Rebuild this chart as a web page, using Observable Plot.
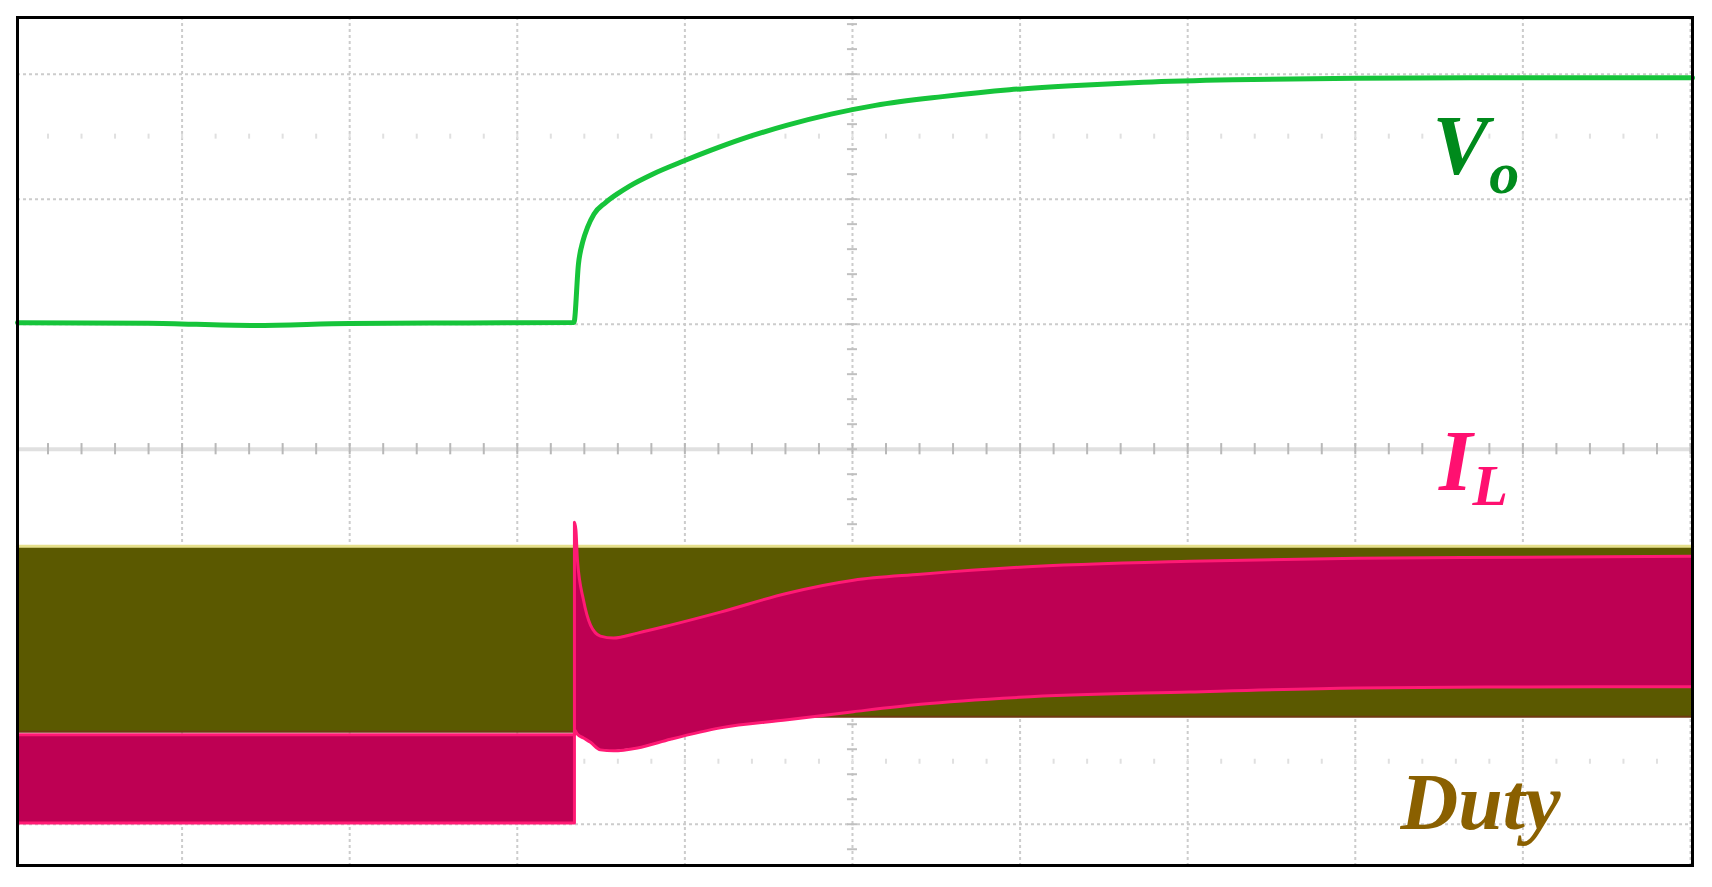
<!DOCTYPE html>
<html><head><meta charset="utf-8">
<script src="https://cdn.jsdelivr.net/npm/d3@7"></script>
<script src="https://cdn.jsdelivr.net/npm/@observablehq/plot@0.6"></script>
<style>html,body{margin:0;padding:0;background:#fff;overflow:hidden}#chart svg{display:block}</style>
</head><body><div id="chart"></div>
<script>
// Oscilloscope screen units: divisions (x: time/div, y: volts-or-amps/div)
const gridX = [-4, -3, -2, -1, 0, 1, 2, 3, 4, 5];
const gridY = [-3, -2, -1, 1, 2, 3];
const minorX = d3.range(-4.8, 5.01, 0.2);
const minorY = d3.range(-3.2, 3.41, 0.2);
const dotRowsY = [-2.5, 2.5];

// Vo trace
const voT = [-4.982, -4.2, -3.59, -3.0, -2.3, -1.662, -1.635, -1.608, -1.581, -1.542, -1.475, -1.408, -1.33, -1.193, -1.008, -0.847, -0.662, -0.394, -0.128, 0.137, 0.537, 0.937, 1.337, 1.736, 2.27, 3.0, 4.0, 5.012];
const voV = [1.012, 1.008, 0.99, 1.005, 1.01, 1.014, 1.482, 1.666, 1.774, 1.881, 1.971, 2.038, 2.105, 2.20, 2.305, 2.39, 2.48, 2.59, 2.68, 2.75, 2.82, 2.875, 2.91, 2.935, 2.955, 2.968, 2.972, 2.972];

// Duty (PWM) envelope
const dutyT = [-4.982, -1.659, -1.659, 5.012];
const dutyTop = [-0.777, -0.777, -0.777, -0.777];
const dutyBottom = [-2.261, -2.261, -2.14, -2.14];

// Inductor current IL envelope
const ilT = [-4.982, -1.659, -1.659, -1.650, -1.641, -1.605, -1.563, -1.504, -1.426, -1.283, -1.086, -0.788, -0.388, 0.006, 0.406, 0.996, 2.011, 3.013, 4.016, 5.012];
const ilTop = [-2.285, -2.285, -0.585, -0.648, -0.888, -1.207, -1.407, -1.495, -1.511, -1.471, -1.407, -1.303, -1.152, -1.048, -1.000, -0.944, -0.896, -0.872, -0.864, -0.856];
const ilBottom = [-2.99, -2.99, -2.245, -2.26, -2.28, -2.31, -2.345, -2.405, -2.413, -2.39, -2.32, -2.229, -2.165, -2.10, -2.04, -1.985, -1.942, -1.91, -1.902, -1.90];

const vo = voT.map((t, i) => ({t, v: voV[i]}));
const duty = dutyT.map((t, i) => ({t, top: dutyTop[i], bottom: dutyBottom[i]}));
const il = ilT.map((t, i) => ({t, top: ilTop[i], bottom: ilBottom[i]}));

const serif = "'Liberation Serif', 'Times New Roman', serif";

const chart = Plot.plot({
  width: 1712,
  height: 887,
  marginTop: 17,
  marginLeft: 17,
  marginRight: 20,
  marginBottom: 22,
  x: {domain: [-4.982, 5.012], axis: null},
  y: {domain: [-3.33, 3.453], axis: null},
  style: {background: "#ffffff", overflow: "visible"},
  marks: [
    // grid
    Plot.ruleX(gridX, {stroke: "#cccccc", strokeWidth: 2, strokeDasharray: "3 3"}),
    Plot.ruleY(gridY, {stroke: "#cccccc", strokeWidth: 2, strokeDasharray: "3 3"}),
    Plot.ruleY([0], {stroke: "#e0e0e0", strokeWidth: 4}),
    Plot.ruleX(minorX, {x: d => d, y1: -0.045, y2: 0.045, stroke: "#b8b8b8", strokeWidth: 2}),
    Plot.ruleY(minorY, {y: d => d, x1: -0.03, x2: 0.03, stroke: "#c0c0c0", strokeWidth: 2}),
    ...dotRowsY.map(r => Plot.ruleX(minorX, {x: d => d, y1: r - 0.02, y2: r + 0.02, stroke: "#e0e0e0", strokeWidth: 2})),
    // Duty
    Plot.areaY(duty, {x: "t", y1: "bottom", y2: "top", fill: "#5b5900"}),
    Plot.lineY(duty, {x: "t", y: "top", stroke: "#e6e08c", strokeWidth: 3}),
    Plot.lineY(duty, {x: "t", y: "bottom", stroke: "#6e3a12", strokeWidth: 2}),
    // IL
    Plot.areaY(il, {x: "t", y1: "bottom", y2: "top", fill: "#be0053"}),
    Plot.lineY(il, {x: "t", y: "top", stroke: "#ff1a74", strokeWidth: 3, curve: "monotone-x"}),
    Plot.lineY(il, {x: "t", y: "bottom", stroke: "#ff1a74", strokeWidth: 3, curve: "monotone-x"}),
    // Vo
    Plot.lineY(vo, {x: "t", y: "v", stroke: "#16c43a", strokeWidth: 5, curve: "monotone-x"}),
    // labels
    Plot.text(["V"], {x: 3.46, y: 2.20, text: d => d, textAnchor: "start", lineAnchor: "bottom", fill: "#008a1c", fontFamily: serif, fontWeight: "bold", fontStyle: "italic", fontSize: 84}),
    Plot.text(["o"], {x: 3.80, y: 2.05, text: d => d, textAnchor: "start", lineAnchor: "bottom", fill: "#008a1c", fontFamily: serif, fontWeight: "bold", fontStyle: "italic", fontSize: 60}),
    Plot.text(["I"], {x: 3.50, y: -0.33, text: d => d, textAnchor: "start", lineAnchor: "bottom", fill: "#ff1070", fontFamily: serif, fontWeight: "bold", fontStyle: "italic", fontSize: 86}),
    Plot.text(["L"], {x: 3.70, y: -0.45, text: d => d, textAnchor: "start", lineAnchor: "bottom", fill: "#ff1070", fontFamily: serif, fontWeight: "bold", fontStyle: "italic", fontSize: 58}),
    Plot.text(["Duty"], {x: 3.27, y: -3.04, text: d => d, textAnchor: "start", lineAnchor: "bottom", fill: "#8a6000", fontFamily: serif, fontWeight: "bold", fontStyle: "italic", fontSize: 80}),
    Plot.frame({stroke: "#000", strokeWidth: 3})
  ]
});
document.getElementById("chart").append(chart);
</script>
</body></html>
